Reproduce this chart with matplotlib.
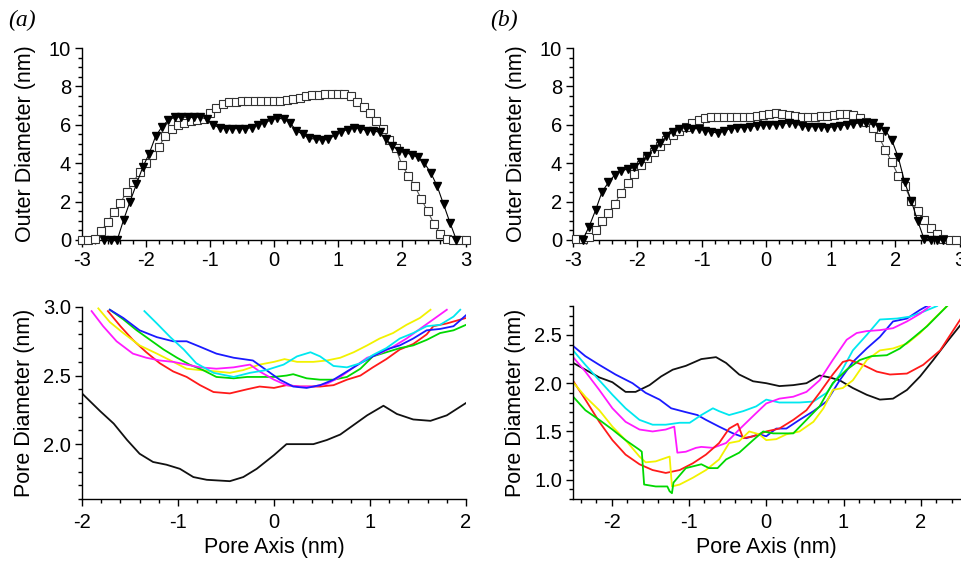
import matplotlib
matplotlib.use('Agg')
import matplotlib.pyplot as plt
from matplotlib.ticker import MultipleLocator
import numpy as np

# ========== DATA ==========
# (a) outer diameter profiles
a_sq_x = np.round(np.arange(-3.0, 3.01, 0.1), 2)
a_sq_y = [0, 0, 0.05, 0.45, 0.95, 1.45, 1.95, 2.5, 3.0, 3.55,
          4.0, 4.45, 4.85, 5.4, 5.8, 6.0, 6.1, 6.2, 6.25, 6.3,
          6.6, 6.85, 7.1, 7.2, 7.2, 7.25, 7.25, 7.25, 7.25, 7.25,
          7.25, 7.25, 7.3, 7.35, 7.4, 7.5, 7.55, 7.55, 7.6, 7.6,
          7.6, 7.6, 7.5, 7.2, 6.95, 6.6, 6.2, 5.8, 5.2, 4.8,
          3.9, 3.35, 2.8, 2.15, 1.5, 0.85, 0.3, 0.05, 0, 0, 0]
a_tri_x = np.round(np.arange(-2.65, 2.86, 0.1), 2)
a_tri_y = [0, 0, 0, 1.05, 2.0, 2.9, 3.8, 4.5, 5.4, 5.9,
           6.25, 6.4, 6.4, 6.4, 6.4, 6.4, 6.3, 6.0, 5.85, 5.8,
           5.8, 5.8, 5.8, 5.85, 6.0, 6.1, 6.25, 6.35, 6.3, 6.1,
           5.7, 5.5, 5.3, 5.25, 5.2, 5.25, 5.45, 5.65, 5.75, 5.85,
           5.8, 5.7, 5.7, 5.6, 5.25, 4.9, 4.65, 4.55, 4.45, 4.3,
           4.0, 3.5, 2.8, 1.85, 0.9, 0]

# (b) outer diameter profiles
b_sq_x = np.round(np.arange(-2.95, 2.96, 0.1), 2)
b_sq_y = [0.05, 0.05, 0.15, 0.5, 1.0, 1.4, 1.9, 2.45, 2.95, 3.45,
          3.9, 4.25, 4.6, 4.9, 5.2, 5.45, 5.7, 5.9, 6.1, 6.25,
          6.35, 6.4, 6.4, 6.4, 6.4, 6.4, 6.4, 6.4, 6.45, 6.5,
          6.55, 6.6, 6.55, 6.5, 6.45, 6.4, 6.4, 6.4, 6.45, 6.45,
          6.5, 6.55, 6.55, 6.5, 6.35, 6.15, 5.85, 5.35, 4.7, 4.05,
          3.35, 2.8, 2.05, 1.5, 1.05, 0.6, 0.3, 0.05, 0, 0]
b_tri_x = np.round(np.arange(-2.85, 2.76, 0.1), 2)
b_tri_y = [0, 0.7, 1.55, 2.5, 3.0, 3.4, 3.6, 3.7, 3.8, 4.05,
           4.4, 4.75, 5.05, 5.4, 5.65, 5.8, 5.85, 5.8, 5.8, 5.7,
           5.65, 5.55, 5.7, 5.8, 5.85, 5.85, 5.9, 5.95, 6.0, 6.0,
           6.0, 6.05, 6.1, 6.05, 5.95, 5.9, 5.9, 5.9, 5.85, 5.9,
           5.95, 6.0, 6.05, 6.1, 6.1, 6.1, 5.9, 5.7, 5.2, 4.3,
           3.0, 2.05, 1.0, 0.05, 0, 0, 0]

# (a) pore diameter profiles
pa_black_x = [-2.0, -1.81, -1.67, -1.53, -1.40, -1.26, -1.12, -0.98, -0.84, -0.70, -0.46, -0.32, -0.18, 0.0,
              0.13, 0.27, 0.41, 0.55, 0.69, 0.83, 0.97, 1.14, 1.28, 1.45, 1.63, 1.80, 2.0]
pa_black_y = [2.37, 2.24, 2.15, 2.03, 1.93, 1.87, 1.85, 1.82, 1.76, 1.74, 1.73, 1.76, 1.82, 1.92,
              2.0, 2.0, 2.0, 2.03, 2.07, 2.14, 2.21, 2.28, 2.22, 2.18, 2.17, 2.21, 2.30]
pa_red_x = [-1.73, -1.60, -1.47, -1.33, -1.19, -1.05, -0.91, -0.77, -0.63, -0.46, -0.28, -0.15, 0.0, 0.13,
            0.27, 0.48, 0.62, 0.76, 0.90, 1.03, 1.17, 1.31, 1.45, 1.59, 1.66, 1.80, 2.0]
pa_red_y = [2.97, 2.86, 2.76, 2.67, 2.59, 2.53, 2.49, 2.43, 2.38, 2.37, 2.40, 2.42, 2.41, 2.43,
            2.42, 2.42, 2.43, 2.47, 2.50, 2.56, 2.62, 2.69, 2.73, 2.80, 2.86, 2.88, 2.92]
pa_yellow_x = [-1.83, -1.71, -1.57, -1.40, -1.22, -1.05, -0.91, -0.77, -0.60, -0.46, -0.32, -0.15, 0.0, 0.11,
               0.24, 0.41, 0.55, 0.69, 0.83, 0.97, 1.10, 1.24, 1.38, 1.52, 1.63]
pa_yellow_y = [2.99, 2.89, 2.81, 2.72, 2.66, 2.60, 2.55, 2.54, 2.53, 2.52, 2.54, 2.58, 2.60, 2.62,
               2.60, 2.60, 2.61, 2.63, 2.67, 2.72, 2.77, 2.81, 2.87, 2.92, 2.98]
pa_green_x = [-1.71, -1.57, -1.43, -1.29, -1.15, -1.01, -0.88, -0.74, -0.60, -0.42, -0.28, -0.15, 0.0, 0.13,
              0.20, 0.34, 0.48, 0.62, 0.76, 0.90, 1.03, 1.17, 1.31, 1.45, 1.59, 1.73, 1.87, 2.0]
pa_green_y = [2.98, 2.91, 2.83, 2.76, 2.69, 2.63, 2.58, 2.54, 2.49, 2.48, 2.49, 2.49, 2.49, 2.50,
              2.51, 2.48, 2.47, 2.47, 2.49, 2.55, 2.64, 2.67, 2.70, 2.72, 2.76, 2.81, 2.83, 2.87]
pa_blue_x = [-1.71, -1.57, -1.40, -1.22, -1.05, -0.91, -0.77, -0.60, -0.42, -0.22, -0.08, 0.06, 0.20, 0.34,
             0.48, 0.62, 0.76, 0.90, 1.03, 1.17, 1.31, 1.45, 1.59, 1.73, 1.87, 2.0]
pa_blue_y = [2.98, 2.92, 2.83, 2.78, 2.75, 2.75, 2.71, 2.66, 2.63, 2.61, 2.54, 2.47, 2.42, 2.41,
             2.43, 2.47, 2.53, 2.59, 2.64, 2.69, 2.72, 2.77, 2.83, 2.84, 2.86, 2.94]
pa_cyan_x = [-1.35, -1.22, -1.08, -0.94, -0.81, -0.63, -0.42, -0.25, -0.08, 0.10, 0.24, 0.38, 0.48, 0.62,
             0.76, 0.90, 1.03, 1.17, 1.31, 1.45, 1.59, 1.73, 1.87, 1.94]
pa_cyan_y = [2.97, 2.88, 2.78, 2.69, 2.59, 2.52, 2.49, 2.52, 2.54, 2.58, 2.64, 2.67, 2.64, 2.57,
             2.56, 2.59, 2.65, 2.70, 2.77, 2.81, 2.86, 2.87, 2.93, 2.98]
pa_magenta_x = [-1.90, -1.78, -1.64, -1.47, -1.33, -1.19, -1.05, -0.91, -0.77, -0.60, -0.42, -0.25, -0.15, 0.0,
                0.13, 0.27, 0.41, 0.55, 0.69, 0.83, 0.97, 1.10, 1.24, 1.38, 1.52, 1.66, 1.80]
pa_magenta_y = [2.97, 2.86, 2.75, 2.66, 2.63, 2.61, 2.60, 2.58, 2.56, 2.55, 2.56, 2.58, 2.53, 2.47,
                2.43, 2.42, 2.42, 2.44, 2.49, 2.56, 2.63, 2.66, 2.71, 2.77, 2.84, 2.91, 2.98]

# (b) pore diameter profiles
pb_black_x = [-2.52, -2.34, -2.16, -1.99, -1.82, -1.69, -1.51, -1.36, -1.21, -1.04, -0.84, -0.65, -0.52, -0.35,
              -0.17, 0.0, 0.17, 0.35, 0.52, 0.69, 0.82, 0.95, 1.12, 1.30, 1.47, 1.64, 1.82, 1.99, 2.16, 2.34, 2.51]
pb_black_y = [2.22, 2.14, 2.06, 2.01, 1.91, 1.91, 1.98, 2.07, 2.14, 2.18, 2.25, 2.27, 2.21, 2.09,
              2.02, 2.0, 1.97, 1.98, 2.0, 2.08, 2.06, 2.03, 1.95, 1.88, 1.83, 1.84, 1.93, 2.07, 2.24, 2.43, 2.60]
pb_blue_x = [-2.52, -2.34, -2.16, -1.95, -1.73, -1.56, -1.38, -1.23, -1.04, -0.89, -0.78, -0.61, -0.43, -0.26,
             -0.09, 0.0, 0.13, 0.26, 0.43, 0.61, 0.78, 0.95, 1.12, 1.30, 1.47, 1.64, 1.82, 1.99, 2.08]
pb_blue_y = [2.40, 2.28, 2.19, 2.09, 2.0, 1.90, 1.83, 1.74, 1.70, 1.67, 1.62, 1.55, 1.48, 1.43,
             1.47, 1.45, 1.53, 1.53, 1.62, 1.71, 1.81, 2.03, 2.22, 2.36, 2.48, 2.64, 2.67, 2.76, 2.80]
pb_cyan_x = [-2.52, -2.34, -2.16, -1.99, -1.82, -1.64, -1.47, -1.30, -1.12, -0.99, -0.84, -0.69, -0.61, -0.48,
             -0.30, -0.13, 0.0, 0.17, 0.43, 0.61, 0.78, 0.95, 1.12, 1.30, 1.47, 1.69, 1.86, 2.03, 2.21]
pb_cyan_y = [2.36, 2.19, 2.03, 1.88, 1.74, 1.62, 1.57, 1.57, 1.59, 1.59, 1.67, 1.74, 1.71, 1.67,
             1.71, 1.76, 1.83, 1.80, 1.80, 1.81, 1.90, 2.09, 2.34, 2.50, 2.66, 2.67, 2.69, 2.74, 2.80]
pb_magenta_x = [-2.52, -2.34, -2.16, -1.99, -1.82, -1.64, -1.47, -1.30, -1.19, -1.15, -1.04, -0.91, -0.84, -0.69,
                -0.52, -0.35, -0.17, 0.0, 0.17, 0.35, 0.52, 0.69, 0.86, 1.04, 1.17, 1.30, 1.47, 1.64, 1.82, 1.99, 2.12]
pb_magenta_y = [2.29, 2.12, 1.93, 1.74, 1.60, 1.52, 1.50, 1.52, 1.55, 1.28, 1.29, 1.33, 1.34, 1.33,
                1.38, 1.52, 1.66, 1.79, 1.84, 1.86, 1.91, 2.03, 2.24, 2.45, 2.52, 2.54, 2.55, 2.57, 2.64, 2.72, 2.80]
pb_red_x = [-2.52, -2.34, -2.16, -1.99, -1.82, -1.64, -1.47, -1.30, -1.12, -0.95, -0.78, -0.61, -0.48, -0.37,
            -0.30, -0.17, 0.0, 0.17, 0.35, 0.52, 0.69, 0.86, 0.99, 1.08, 1.25, 1.43, 1.60, 1.82, 2.03, 2.25, 2.51]
pb_red_y = [2.05, 1.83, 1.60, 1.41, 1.26, 1.16, 1.10, 1.07, 1.10, 1.17, 1.26, 1.38, 1.53, 1.58,
            1.43, 1.45, 1.50, 1.53, 1.62, 1.72, 1.90, 2.09, 2.22, 2.24, 2.19, 2.12, 2.09, 2.10, 2.19, 2.34, 2.66]
pb_yellow_x = [-2.52, -2.34, -2.16, -1.99, -1.82, -1.64, -1.56, -1.43, -1.25, -1.22, -1.12, -0.95, -0.78, -0.61,
               -0.48, -0.35, -0.22, -0.09, 0.0, 0.13, 0.26, 0.43, 0.61, 0.74, 0.86, 0.99, 1.12, 1.30, 1.47, 1.64,
               1.82, 1.99, 2.16, 2.34]
pb_yellow_y = [2.03, 1.86, 1.72, 1.55, 1.41, 1.24, 1.18, 1.19, 1.24, 0.93, 0.95, 1.02, 1.10, 1.21,
               1.38, 1.40, 1.50, 1.47, 1.41, 1.42, 1.47, 1.50, 1.60, 1.74, 1.93, 1.95, 2.03, 2.24, 2.34, 2.36,
               2.41, 2.52, 2.66, 2.80]
pb_green_x = [-2.52, -2.34, -2.16, -1.99, -1.82, -1.64, -1.61, -1.58, -1.43, -1.28, -1.25, -1.22, -1.20, -1.04,
              -0.84, -0.74, -0.63, -0.52, -0.35, -0.17, -0.04, 0.09, 0.35, 0.52, 0.69, 0.86, 1.04, 1.21, 1.36,
              1.56, 1.73, 1.90, 2.08, 2.34]
pb_green_y = [1.88, 1.72, 1.62, 1.52, 1.41, 1.31, 1.29, 0.95, 0.93, 0.93, 0.88, 0.86, 0.97, 1.12,
              1.16, 1.12, 1.12, 1.21, 1.28, 1.41, 1.50, 1.48, 1.48, 1.62, 1.76, 2.0, 2.14, 2.24, 2.28,
              2.29, 2.36, 2.47, 2.59, 2.80]

CLR = {"black": "#111111", "red": "#ff1a1a", "yellow": "#f2f200", "green": "#00d800",
       "blue": "#1a1aff", "cyan": "#00e8f0", "magenta": "#ff1aff"}

plt.rcParams['font.family'] = ['Liberation Sans', 'DejaVu Sans']
plt.rcParams['axes.unicode_minus'] = False

fig = plt.figure(figsize=(9.61, 5.64), dpi=100)
W, H = 961, 564

def axes_px(x0, x1, ytop, ybot):
    return fig.add_axes([x0 / W, 1 - ybot / H, (x1 - x0) / W, (ybot - ytop) / H])

def style(ax):
    for s in ("top", "right"):
        ax.spines[s].set_visible(False)
    for s in ("left", "bottom"):
        ax.spines[s].set_linewidth(1.0)
    ax.tick_params(which="major", direction="out", length=5, width=1.0, labelsize=14.5, pad=3)
    ax.tick_params(which="minor", direction="out", length=3, width=1.0)
    ax.patch.set_alpha(0)

# ========== TOP PANELS ==========
ax_ta = axes_px(82, 466, 48, 240)
ax_tb = axes_px(573, 959.5, 48, 240)
for ax, sx, sy, tx, ty in [(ax_ta, a_sq_x, a_sq_y, a_tri_x, a_tri_y),
                          (ax_tb, b_sq_x, b_sq_y, b_tri_x, b_tri_y)]:
    ax.plot(sx, sy, "-", color="#555555", lw=0.8, marker="s", ms=5.5, mfc="white",
            mec="#333333", mew=0.8, clip_on=False, zorder=3)
    ax.plot(tx, ty, "-", color="black", lw=0.8, marker="v", ms=5.5, mfc="black",
            mec="black", clip_on=False, zorder=4)
    ax.set_xlim(-3, 3)
    ax.set_ylim(0, 10)
    ax.xaxis.set_major_locator(MultipleLocator(1))
    ax.xaxis.set_minor_locator(MultipleLocator(0.2))
    ax.yaxis.set_major_locator(MultipleLocator(2))
    ax.yaxis.set_minor_locator(MultipleLocator(0.5))
    style(ax)
    ax.set_ylabel("Outer Diameter (nm)", fontsize=15.5, labelpad=9)

# ========== BOTTOM PANELS ==========
ax_ba = axes_px(82, 466, 307, 499)
ax_bb = axes_px(573, 959.5, 306, 499)

for name, x, y in [("black", pa_black_x, pa_black_y), ("red", pa_red_x, pa_red_y),
                   ("yellow", pa_yellow_x, pa_yellow_y), ("green", pa_green_x, pa_green_y),
                   ("magenta", pa_magenta_x, pa_magenta_y), ("blue", pa_blue_x, pa_blue_y),
                   ("cyan", pa_cyan_x, pa_cyan_y)]:
    ax_ba.plot(x, y, color=CLR[name], lw=1.3)
ax_ba.set_xlim(-2, 2)
ax_ba.set_ylim(1.6, 3.0)
ax_ba.xaxis.set_major_locator(MultipleLocator(1))
ax_ba.xaxis.set_minor_locator(MultipleLocator(0.2))
ax_ba.yaxis.set_major_locator(MultipleLocator(0.5))
ax_ba.yaxis.set_minor_locator(MultipleLocator(0.1))
ax_ba.yaxis.set_major_formatter(plt.FormatStrFormatter("%.1f"))

for name, x, y in [("black", pb_black_x, pb_black_y), ("blue", pb_blue_x, pb_blue_y),
                   ("cyan", pb_cyan_x, pb_cyan_y), ("magenta", pb_magenta_x, pb_magenta_y),
                   ("red", pb_red_x, pb_red_y), ("yellow", pb_yellow_x, pb_yellow_y),
                   ("green", pb_green_x, pb_green_y)]:
    ax_bb.plot(x, y, color=CLR[name], lw=1.3)
ax_bb.set_xlim(-2.5, 2.5)
ax_bb.set_ylim(0.8, 2.8)
ax_bb.xaxis.set_major_locator(MultipleLocator(1))
ax_bb.xaxis.set_minor_locator(MultipleLocator(0.2))
ax_bb.yaxis.set_major_locator(MultipleLocator(0.5))
ax_bb.yaxis.set_minor_locator(MultipleLocator(0.1))
ax_bb.yaxis.set_major_formatter(plt.FormatStrFormatter("%.1f"))

for ax in (ax_ba, ax_bb):
    style(ax)
    ax.tick_params(axis="x", which="major", pad=5)
    ax.set_ylabel("Pore Diameter (nm)", fontsize=15.5, labelpad=6)
    ax.set_xlabel("Pore Axis (nm)", fontsize=15.5, labelpad=4)

# panel letters
fig.text(8 / W, 1 - 20 / H, "(a)", fontsize=17, family="Liberation Serif", style="italic", va="center")
fig.text(490 / W, 1 - 20 / H, "(b)", fontsize=17, family="Liberation Serif", style="italic", va="center")

fig.savefig("out.png", dpi=100)
